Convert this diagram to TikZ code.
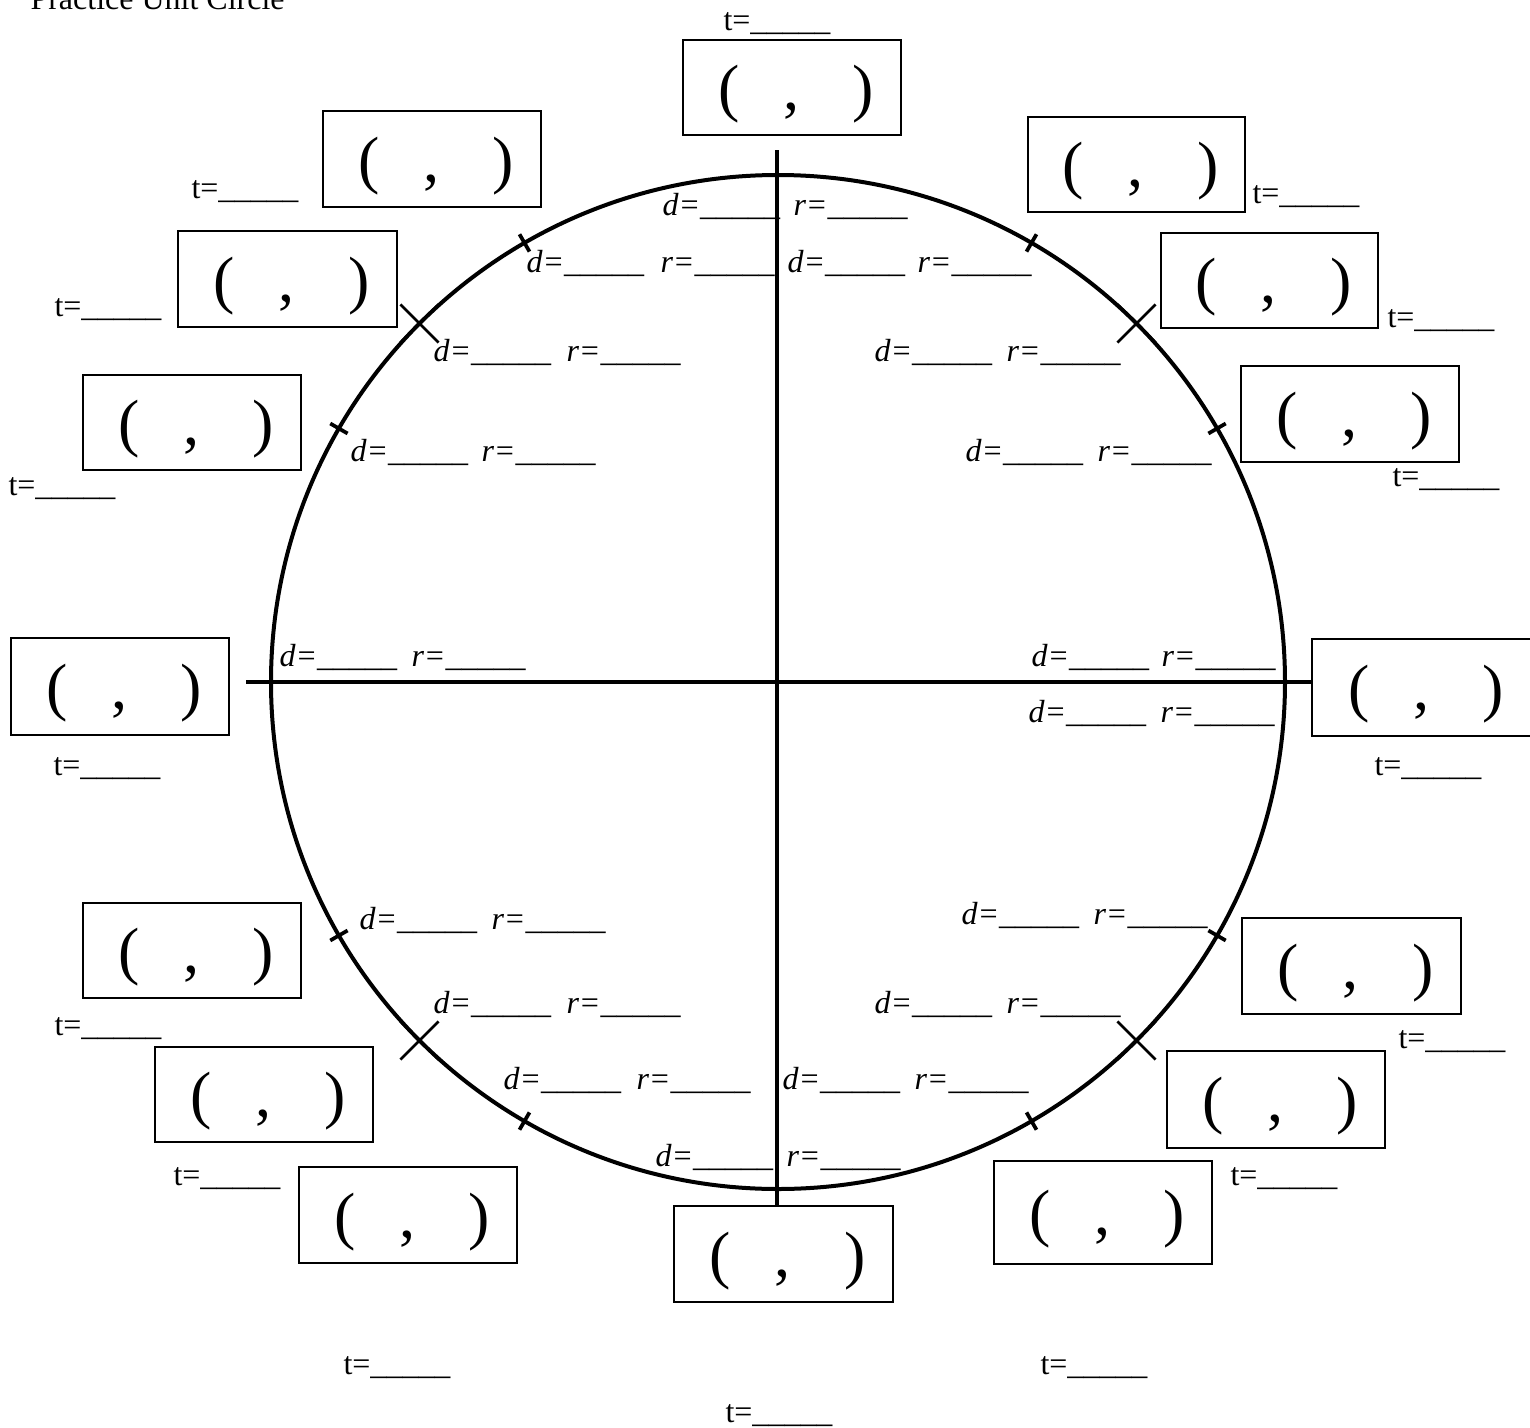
\documentclass[tikz,border=0pt]{standalone}
\usepackage{fontspec}
\setmainfont{Liberation Serif}
\usetikzlibrary{fit,calc}
\begin{document}
\begin{tikzpicture}[x=0.375pt,y=-0.375pt,
  cbox/.style={draw,line width=0.75pt,inner sep=0pt},
  ctext/.style={font=\fontsize{24}{28}\selectfont,inner sep=0pt},
  tlab/.style={anchor=base west,inner sep=0pt,font=\fontsize{12}{14}\selectfont},
  dlab/.style={anchor=base west,inner sep=0pt,font=\fontsize{12}{14}\selectfont\itshape},
  axis/.style={line width=1.7pt},
  ring/.style={line width=1.5pt},
  tick/.style={line width=1.4pt},
  xmark/.style={line width=1pt}]
\useasboundingbox (0,0) rectangle (1530,1428);

% title (partly cut off by the page edge)
\node[tlab] (title) at (30,9) {Practice Unit Circle};

% circle and axes
\coordinate (O) at (778,682);
\draw[ring] (O) circle [radius=507];
\coordinate (L) at (246,682);
\coordinate (R) at (1312,682);
\coordinate (T) at (777,150);
\coordinate (B) at (777,1206);
\draw[axis] (L) -- (R);
\draw[axis] (T) -- (B);

% ticks at 30/60 degrees
\foreach \a in {30,60,120,150,210,240,300,330}{
  \draw[tick] ({778+497*cos(\a)},{682-497*sin(\a)}) -- ({778+517*cos(\a)},{682-517*sin(\a)});
}
% crosses at 45 degrees
\foreach \a in {45,135,225,315}{
  \coordinate (X\a) at ({778+507*cos(\a)},{682-507*sin(\a)});
  \draw[xmark] ($(X\a)+({-27*cos(\a)},{27*sin(\a)})$) -- ($(X\a)+({27*cos(\a)},{-27*sin(\a)})$);
  \draw[xmark] ($(X\a)+({-27*sin(\a)},{-27*cos(\a)})$) -- ($(X\a)+({27*sin(\a)},{27*cos(\a)})$);
}

% coordinate boxes
\foreach \i/\xa/\ya/\xb/\yb in {
  1/683/40/901/135,
  2/323/111/541/207,
  3/1028/117/1245/212,
  4/178/231/397/327,
  5/1161/233/1378/328,
  6/83/375/301/470,
  7/1241/366/1459/462,
  8/11/638/229/735,
  9/1312/639/1532/736,
  10/83/903/301/998,
  11/1242/918/1461/1014,
  12/155/1047/373/1142,
  13/1167/1051/1385/1148,
  14/299/1167/517/1263,
  15/994/1161/1212/1264,
  16/674/1206/893/1302}{
  \coordinate (b\i a) at (\xa,\ya);
  \coordinate (b\i b) at (\xb,\yb);
  \node[cbox,fit=(b\i a)(b\i b)] (box\i) {};
  \node[ctext] (ct\i) at ([xshift=1.5pt,yshift=-2.6pt]box\i.center) {(\hspace{16.5pt},\hspace{20pt})};
}

% t labels
\foreach \i/\x/\y in {
  1/723/30, 2/191/198, 3/1252/203, 4/54/316, 5/1387/327, 6/8/495,
  7/1392/486, 8/53/775, 9/1374/775, 10/54/1035, 11/1398/1048,
  12/173/1185, 13/1230/1185, 14/343/1374, 15/1040/1374, 16/725/1422}{
  \node[tlab] (t\i) at (\x,\y) {t=\_\_\_\_\_};
}

% d and r labels
\foreach \i/\dx/\rx/\y in {
  1/662/793/215, 2/526/660/272, 3/787/917/272, 4/433/566/361,
  5/874/1006/361, 6/350/481/461, 7/965/1097/461, 8/279/411/666,
  9/1031/1161/666, 10/1028/1160/722, 11/359/491/929, 12/961/1093/924,
  13/433/566/1013, 14/874/1006/1013, 15/503/636/1089, 16/782/914/1089,
  17/655/786/1166}{
  \node[dlab] (d\i) at (\dx,\y) {d=\_\_\_\_\_};
  \node[dlab] (r\i) at (\rx,\y) {r=\_\_\_\_\_};
}
\end{tikzpicture}
\end{document}
